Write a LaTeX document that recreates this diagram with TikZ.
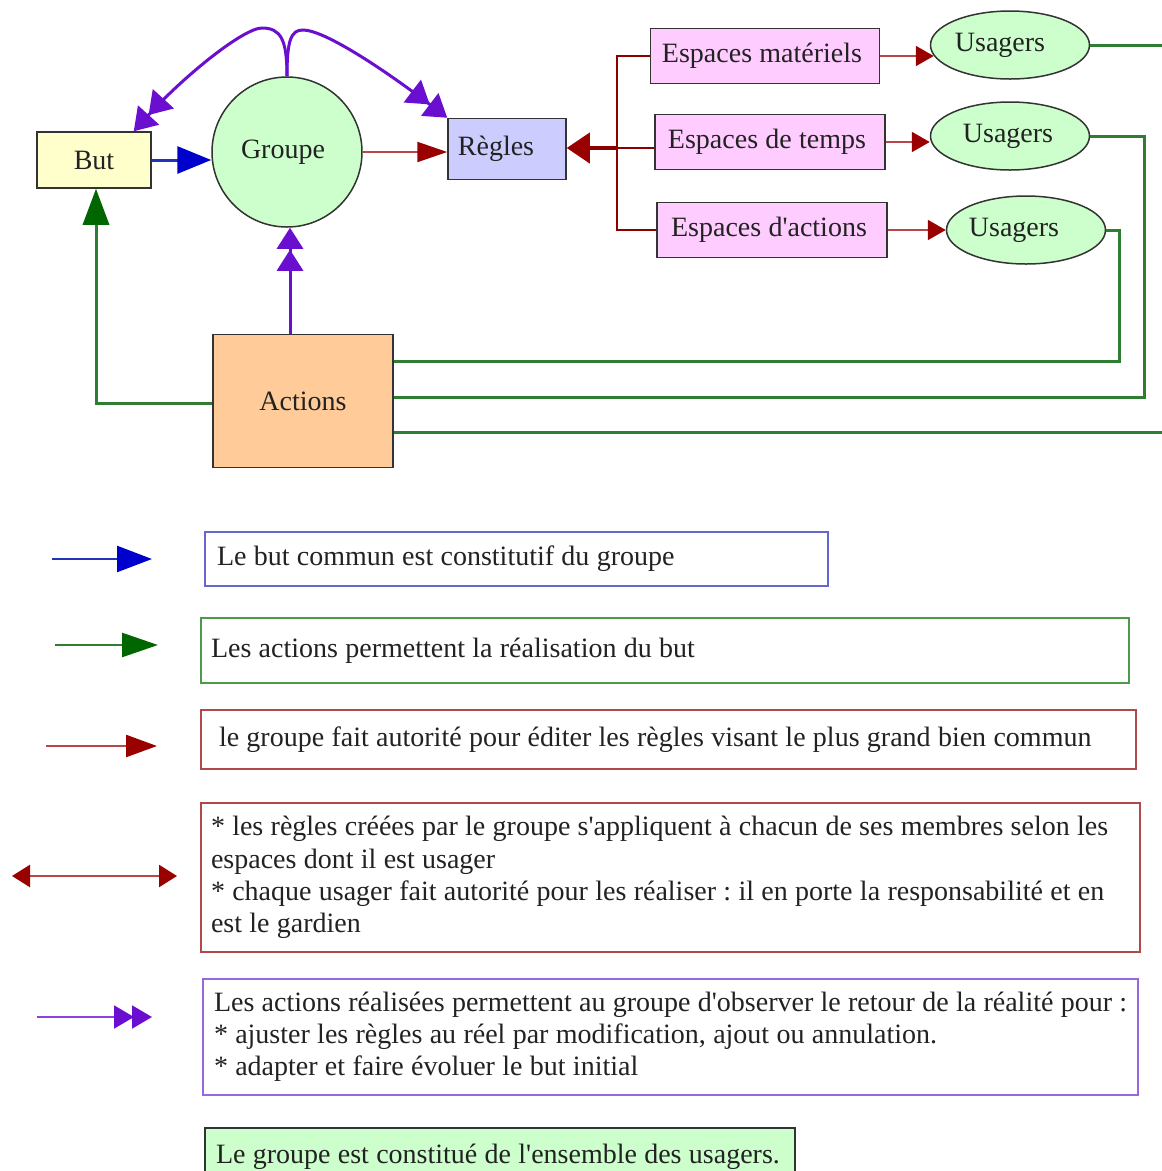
\documentclass[tikz,border=0pt]{standalone}
\usepackage{fontspec}
\setmainfont{Liberation Serif}[Ligatures=TeXOff]
\usetikzlibrary{arrows.meta,shapes.geometric}

\definecolor{ink}{HTML}{222222}
\definecolor{edge}{HTML}{333333}
\definecolor{butfill}{HTML}{FFFFCC}
\definecolor{grpfill}{HTML}{CCFFCC}
\definecolor{regfill}{HTML}{CCCCFF}
\definecolor{espfill}{HTML}{FFCCFF}
\definecolor{usfill}{HTML}{CCFFCC}
\definecolor{actfill}{HTML}{FFCC99}
\definecolor{blueline}{HTML}{2233BB}
\definecolor{bluehead}{HTML}{0000CC}
\definecolor{greenline}{HTML}{2E7D32}
\definecolor{greenhead}{HTML}{006600}
\definecolor{redline}{HTML}{B84848}
\definecolor{redbus}{HTML}{8B0000}
\definecolor{redhead}{HTML}{990000}
\definecolor{purple}{HTML}{6A0FD0}
\definecolor{purplelight}{HTML}{9040E0}
\definecolor{legblue}{HTML}{6666CC}
\definecolor{leggreen}{HTML}{4C9A4C}
\definecolor{legred}{HTML}{B04A4A}
\definecolor{legpurple}{HTML}{9A66DD}

\newcommand\diagfont{\fontsize{28}{32.2}\selectfont}
% one line of text, set with a fixed word space
\newcommand\legline[1]{\mbox{\spaceskip=7.3pt\xspaceskip=7.3pt\relax #1}}

\begin{document}
\begin{tikzpicture}[x=1pt,y=-1pt,
  every node/.style={font=\diagfont, text=ink},
  shapebox/.style={rectangle, draw=edge, line width=1.5pt, inner sep=0pt},
  oval/.style={ellipse, draw=edge, line width=1.5pt, inner sep=0pt, fill=usfill,
    minimum width=159pt, minimum height=68pt},
  espbox/.style={shapebox, fill=espfill, minimum width=229pt, minimum height=55pt},
  legbox/.style={rectangle, line width=2pt, anchor=north west, align=left, inner ysep=0pt},
  gline/.style={draw=greenline, line width=3pt},
  rline/.style={draw=redline, line width=2pt},
  bline/.style={draw=redbus, line width=2pt},
  pline/.style={draw=purple, line width=3pt},
  redtip/.style={-{Triangle[length=#1,width=20pt,color=redhead]}},
  pdouble/.style={-{Triangle[length=21pt,width=26pt,sep=1pt] Triangle[length=21pt,width=26pt]}},
  pcurve/.style={-{Triangle[length=22pt,width=28pt,sep=0pt] Triangle[length=22pt,width=28pt]}}
]
\useasboundingbox (0,0) rectangle (1162,1171);
\fill[white] (0,0) rectangle (1162,1171);

% ---- main nodes ----
\node[shapebox, fill=butfill, minimum width=114pt, minimum height=56pt] (but) at (94,160) {But};
\node[circle, draw=edge, line width=1.5pt, fill=grpfill, minimum size=150pt, inner sep=0pt] (groupe) at (287,152) {\hspace*{-8pt}Groupe};
\node[shapebox, fill=regfill, minimum width=118pt, minimum height=61pt] (regles) at (507,149) {\hspace*{-22pt}Règles};
\node[shapebox, fill=actfill, minimum width=180pt, minimum height=133pt] (actions) at (303,401) {Actions};

\node[espbox] (esp1) at (765,56) {\hspace*{-6pt}\legline{Espaces matériels}};
\node[espbox, minimum width=230pt] (esp2) at (770,142) {\hspace*{-6pt}\legline{Espaces de temps}};
\node[espbox, minimum width=230pt] (esp3) at (772,230) {\hspace*{-6pt}\legline{Espaces d'actions}};

\node[oval] (us1) at (1010,45) {\hspace*{-20pt}Usagers};
\node[oval] (us2) at (1010,136) {\hspace*{-4pt}Usagers};
\node[oval] (us3) at (1026,230) {\hspace*{-24pt}Usagers};

% ---- helper coordinates ----
\coordinate (bus) at (617,148);
\coordinate (rightedge) at (1170,0);
\coordinate (g1) at (1170,432);
\coordinate (g2) at (1144,397);
\coordinate (g3) at (1119,361);
\coordinate (g0) at (96,403);
\coordinate (p0) at (290,0);
\coordinate (peakL) at (262,28);
\coordinate (peakR) at (303,30);

% ---- but -> groupe ----
\draw[line width=3pt, draw=blueline, -{Triangle[length=34pt,width=27pt,color=bluehead]}]
  (but.east) -- (but.east -| groupe.west);

% ---- groupe -> regles ----
\draw[rline, redtip=30pt] (groupe.east) -- (groupe.east -| regles.west);

% ---- espaces bus -> regles ----
\draw[bline] (esp1.west) -| (bus) |- (esp3.west);
\draw[bline] (bus) -- (bus -| esp2.west);
\draw[draw=redbus, line width=4pt, -{Triangle[length=23pt,width=30pt,color=redhead]}]
  (bus) -- (bus -| regles.east);

% ---- espaces -> usagers ----
\draw[rline, redtip=18pt, shorten >=-4pt] (esp1.east) -- (esp1.east -| us1.west);
\draw[rline, redtip=18pt] (esp2.east) -- (esp2.east -| us2.west);
\draw[rline, redtip=18pt] (esp3.east) -- (esp3.east -| us3.west);

% ---- usagers -> actions (green feedback) ----
\draw[gline] (us1.east) -- (us1.east -| rightedge);
\draw[gline] (us2.east) -| (g2) -- (g2 -| actions.east);
\draw[gline] (us3.east) -| (g3) -- (g3 -| actions.east);
\draw[gline] (actions.east |- g1) -- (g1);

% ---- actions -> but ----
\draw[gline, -{Triangle[length=36pt,width=26pt,color=greenhead]}]
  (actions.west |- g0) -- (g0) -- (g0 |- but.south);

% ---- actions -> groupe ----
\draw[pline, pdouble] (p0 |- actions.north) -- (p0 |- groupe.south);

% ---- groupe -> but / regles (feedback loops) ----
\draw[pline, pcurve] (groupe.north) .. controls (287,40) and (281,28) .. (peakL)
  .. controls (244,28) and (186,74) .. ([xshift=-18pt]but.north east);
\draw[pline, pcurve] (groupe.north) .. controls (287,40) and (291,30) .. (peakR)
  .. controls (324,30) and (382,68) .. (regles.north west);

% ---- legend ----
\coordinate (a1s) at (52,559);  \coordinate (a1e) at (152,559);
\coordinate (a2s) at (55,645);  \coordinate (a2e) at (158,645);
\coordinate (a3s) at (46,746);  \coordinate (a3e) at (157,746);
\coordinate (a4s) at (12,876);  \coordinate (a4e) at (177,876);
\coordinate (a5s) at (37,1017); \coordinate (a5e) at (152,1017);

\draw[line width=2.5pt, draw=blueline, -{Triangle[length=35pt,width=26pt,color=bluehead]}] (a1s) -- (a1e);
\draw[line width=2.5pt, draw=greenline, -{Triangle[length=36pt,width=24pt,color=greenhead]}] (a2s) -- (a2e);
\draw[line width=2.5pt, draw=redline, -{Triangle[length=31pt,width=22pt,color=redhead]}] (a3s) -- (a3e);
\draw[line width=2.5pt, draw=redline,
  {Triangle[length=18pt,width=22pt,color=redhead]}-{Triangle[length=18pt,width=22pt,color=redhead]}] (a4s) -- (a4e);
\draw[line width=2pt, draw=purplelight,
  -{Triangle[length=20pt,width=23pt,sep=-2pt,color=purple] Triangle[length=20pt,width=23pt,color=purple]}] (a5s) -- (a5e);

\node[legbox, draw=legblue, minimum height=54pt, inner xsep=12pt, text width=599pt] (l1) at (204,531)
  {\legline{Le but commun est constitutif du groupe}};
\node[legbox, draw=leggreen, minimum height=65pt, inner xsep=10pt, text width=908pt] (l2) at (200,617)
  {\legline{Les actions permettent la réalisation du but}\\[6pt]};
\node[legbox, draw=legred, minimum height=59pt, inner xsep=18pt, text width=899pt] (l3) at (200,709)
  {\legline{le groupe fait autorité pour éditer les règles visant le plus grand bien commun}};
\node[legbox, draw=legred, minimum height=149pt, inner xsep=10pt, text width=919pt] (l4) at (200,802)
  {\legline{* les règles créées par le groupe s'appliquent à chacun de ses membres selon les}\\
   \legline{espaces dont il est usager}\\
   \legline{* chaque usager fait autorité pour les réaliser : il en porte la responsabilité et en}\\
   \legline{est le gardien}};
\node[legbox, draw=legpurple, minimum height=116pt, inner xsep=11pt, text width=913pt] (l5) at (202,978)
  {\legline{Les actions réalisées permettent au groupe d'observer le retour de la réalité pour :}\\
   \legline{* ajuster les règles au réel par modification, ajout ou annulation.}\\
   \legline{* adapter et faire évoluer le but initial}};
\node[legbox, draw=edge, fill=grpfill, minimum height=58pt, inner xsep=11pt, text width=568pt] (l6) at (204,1127)
  {\legline{Le groupe est constitué de l'ensemble des usagers.}};
\end{tikzpicture}
\end{document}
